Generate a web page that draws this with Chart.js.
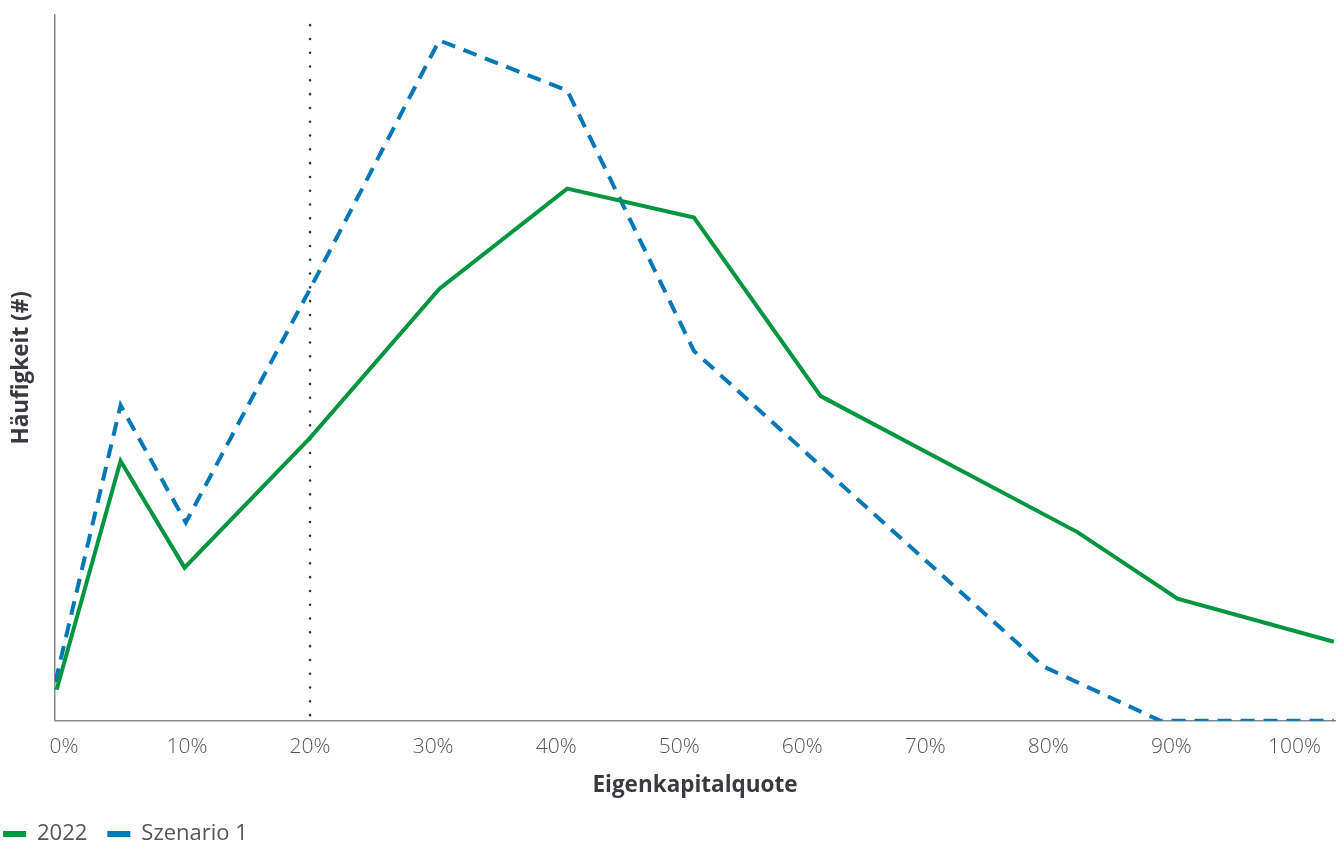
<!DOCTYPE html>
<html lang="de">
<head>
    <meta charset="UTF-8">
    <title>Eigenkapitalquote</title>
    <script src="https://cdn.jsdelivr.net/npm/chart.js"></script>
    <style>
        html, body { margin: 0; padding: 0; background: #fff; }
    </style>
</head>
<body>
<canvas id="grafico" width="1336" height="841"></canvas>

<script>
    // Werte aus dem Bild geschätzt (x = Eigenkapitalquote in %, y = Häufigkeit, ohne Einheit)
    const xWerte2022 = [-0.6, 4.6, 9.8, 20, 30.5, 40.9, 51.2, 61.5, 82.4, 90.5, 103.2];
    const werte2022  = [4.4, 36.8, 21.7, 40.1, 61.2, 75.4, 71.3, 46.0, 26.7, 17.3, 11.2];

    const xWerteSzenario = [-0.7, 4.6, 9.9, 20, 30.5, 40.9, 51.2, 61.5, 79.6, 89.1, 103.2];
    const werteSzenario  = [5.5, 44.7, 28.1, 61.2, 96.4, 89.3, 52.4, 36.1, 7.7, 0, 0];

    const xTicks = [0, 10, 20, 30, 40, 50, 60, 70, 80, 90, 100];
    const markierung = 20; // senkrechte gepunktete Linie bei 20%

    const gruen = '#009640';
    const blau = '#0077b6';

    function punkte(xs, ys) {
        return xs.map((x, i) => ({ x: x, y: ys[i] }));
    }

    // Legende nach links oben schieben (Abstand zwischen den Einträgen bleibt)
    const legendeVerschieben = {
        id: 'legendeVerschieben',
        afterLayout(chart) {
            const l = chart.legend;
            l.left -= 17;
            l.right -= 17;
            l.top -= 8;
            l.bottom -= 8;
        }
    };

    new Chart(document.getElementById('grafico'), {
        type: 'line',
        data: {
            datasets: [
                {
                    label: '2022',
                    data: punkte(xWerte2022, werte2022),
                    borderColor: gruen,
                    backgroundColor: gruen,
                    borderWidth: 4,
                    pointRadius: 0,
                    tension: 0
                },
                {
                    label: 'Szenario 1',
                    data: punkte(xWerteSzenario, werteSzenario),
                    borderColor: blau,
                    backgroundColor: blau,
                    borderWidth: 4,
                    borderDash: [14, 9],
                    pointRadius: 0,
                    tension: 0
                },
                {
                    label: 'marker',
                    data: [{ x: markierung, y: 0.8 }, { x: markierung, y: 100 }],
                    borderColor: '#1d4630',
                    borderWidth: 2.6,
                    borderDash: [0, 13.8],
                    borderCapStyle: 'round',
                    pointRadius: 0
                }
            ]
        },
        plugins: [legendeVerschieben],
        options: {
            responsive: false,
            animation: false,
            devicePixelRatio: 1,
            layout: { padding: { left: 0, right: 1, top: 15, bottom: -22 } },
            plugins: {
                legend: {
                    position: 'bottom',
                    align: 'start',
                    labels: {
                        boxWidth: 23,
                        boxHeight: 6,
                        padding: 20,
                        color: '#555',
                        font: { family: 'Open Sans', size: 22 },
                        filter: item => item.text !== 'marker',
                        generateLabels: chart => Chart.defaults.plugins.legend.labels.generateLabels(chart)
                            .map(l => Object.assign(l, { lineWidth: 0, lineDash: [] }))
                    }
                },
                tooltip: { enabled: false }
            },
            scales: {
                x: {
                    type: 'linear',
                    min: -0.73,
                    max: 103.3,
                    afterBuildTicks: axis => { axis.ticks = xTicks.map(v => ({ value: v })); },
                    grid: { display: false, drawTicks: false },
                    border: { color: '#888', width: 1.5 },
                    ticks: {
                        padding: 14,
                        color: '#555',
                        font: { family: 'Open Sans', size: 21, weight: '300' },
                        callback: v => v + '%',
                        maxRotation: 0,
                        autoSkip: false
                    },
                    title: {
                        display: true,
                        text: 'Eigenkapitalquote',
                        color: '#3a3a40',
                        font: { family: 'Open Sans', size: 22.5, weight: 'bold' },
                        padding: { top: -2, bottom: 12 }
                    }
                },
                y: {
                    min: 0,
                    max: 100,
                    grid: { display: false, drawTicks: false },
                    border: { color: '#888', width: 1.5 },
                    ticks: { display: false },
                    title: {
                        display: true,
                        text: 'Häufigkeit (#)',
                        color: '#3a3a40',
                        font: { family: 'Open Sans', size: 22.5, weight: 'bold' },
                        padding: { top: 8, bottom: 20 }
                    }
                }
            }
        }
    });
</script>
</body>
</html>
